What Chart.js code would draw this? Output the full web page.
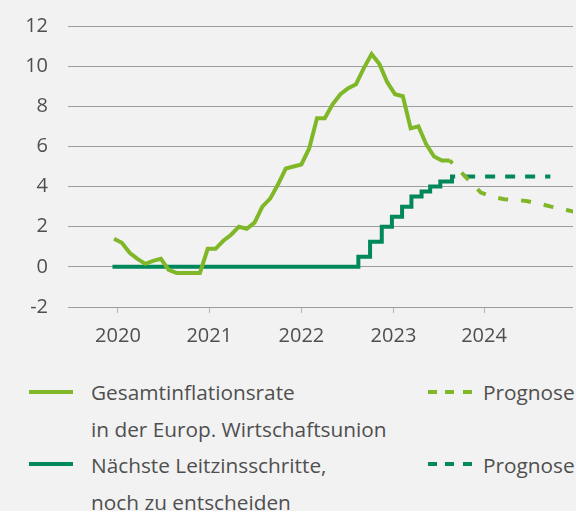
<!DOCTYPE html>
<html lang="de">
<head>
<meta charset="utf-8">
<script src="https://cdn.jsdelivr.net/npm/chart.js@4.4.1/dist/chart.umd.min.js"></script>
<style>
  html, body { margin: 0; padding: 0; background: #f2f2f2; }
  body { width: 576px; height: 511px; position: relative; overflow: hidden;
         font-family: 'Open Sans', sans-serif; color: #4f4f4f; }
  #chartBox { position: absolute; left: 0; top: 0; width: 576px; height: 355px; }
  .swatch { position: absolute; height: 4px; width: 44px; }
  .solid-light { background: #80b729; }
  .solid-dark { background: #00885a; }
  .dash-light { background: repeating-linear-gradient(to right, #80b729 0 9px, transparent 9px 17.3px); }
  .dash-dark { background: repeating-linear-gradient(to right, #00885a 0 9px, transparent 9px 17.3px); }
  .label { position: absolute; font-size: 20.8px; line-height: 20px; white-space: nowrap; }
</style>
</head>
<body>
<div id="chartBox"><canvas id="chart"></canvas></div>

<!-- legend -->
<div class="swatch solid-light" style="left:29px; top:390px;"></div>
<div class="label" style="left:91px; top:382px;">Gesamtinflationsrate</div>
<div class="label" style="left:91px; top:419px;">in der Europ. Wirtschaftsunion</div>
<div class="swatch solid-dark" style="left:29px; top:462px;"></div>
<div class="label" style="left:91px; top:455px;">Nächste Leitzinsschritte,</div>
<div class="label" style="left:91px; top:492px;">noch zu entscheiden</div>
<div class="swatch dash-light" style="left:428px; top:390px;"></div>
<div class="label" style="left:483px; top:382px;">Prognose</div>
<div class="swatch dash-dark" style="left:428px; top:462px;"></div>
<div class="label" style="left:483px; top:455px;">Prognose</div>

<script>
// Year ticks (position in months since Jan 2020)
const yearLabels = ['2020', '2021', '2022', '2023', '2024'];
const yearTickPos = [0.5, 12.2, 24.0, 35.8, 47.4];

// Inflation rate, monthly from Jan 2020 (%)
const inflation = [
  1.4, 1.2, 0.7, 0.4, 0.15, 0.3, 0.4, -0.15, -0.3, -0.3, -0.3, -0.3,
  0.9, 0.9, 1.3, 1.6, 2.0, 1.9, 2.2, 3.0, 3.4, 4.1, 4.9, 5.0,
  5.1, 5.9, 7.4, 7.4, 8.1, 8.6, 8.9, 9.1, 9.9, 10.6, 10.1, 9.2,
  8.6, 8.5, 6.9, 7.0, 6.1, 5.5, 5.3, 5.3
];

// Inflation forecast, monthly from Aug 2023
const inflationForecastStart = 43;
const inflationForecast = [5.3, 4.9, 4.5, 4.1, 3.7, 3.55, 3.45, 3.37, 3.34, 3.32,
  3.27, 3.18, 3.1, 3.0, 2.92, 2.83, 2.74, 2.65];

// Key rate steps
const rateMonths = [-0.2, 31.3, 32.8, 34.3, 35.6, 36.9, 38.1, 39.4, 40.5, 41.8, 43.3, 43.7];
const rateLevels = [0, 0.5, 1.25, 2.0, 2.5, 3.0, 3.5, 3.75, 4.0, 4.25, 4.5, 4.5];

// Key rate forecast
const rateForecastMonths = [43.7, 55.9];
const rateForecastLevels = [4.5, 4.5];

const LIGHT = '#80b729';
const DARK = '#00885a';
const TEXT = '#4f4f4f';

const inflationPts = inflation.map((v, i) => ({ x: i, y: v }));
const inflationFcPts = inflationForecast.map((v, i) => ({ x: inflationForecastStart + i, y: v }));
const ratePts = rateMonths.map((m, i) => ({ x: m, y: rateLevels[i] }));
const rateFcPts = rateForecastMonths.map((m, i) => ({ x: m, y: rateForecastLevels[i] }));

Chart.defaults.font.family = "'Open Sans', sans-serif";
Chart.defaults.font.size = 20;
Chart.defaults.color = TEXT;

const ctx = document.getElementById('chart').getContext('2d');
new Chart(ctx, {
  type: 'line',
  data: {
    datasets: [
      {
        label: 'Gesamtinflationsrate',
        data: inflationPts,
        borderColor: LIGHT,
        borderWidth: 4,
        pointRadius: 0,
        tension: 0
      },
      {
        label: 'Prognose Inflation',
        data: inflationFcPts,
        borderColor: LIGHT,
        borderWidth: 4,
        borderDash: [10, 13],
        borderDashOffset: 6,
        pointRadius: 0,
        tension: 0
      },
      {
        label: 'Leitzins',
        data: ratePts,
        borderColor: DARK,
        borderWidth: 4,
        stepped: true,
        pointRadius: 0
      },
      {
        label: 'Prognose Leitzins',
        data: rateFcPts,
        borderColor: DARK,
        borderWidth: 4,
        borderDash: [10, 10],
        borderDashOffset: 10,
        pointRadius: 0
      }
    ]
  },
  options: {
    responsive: true,
    maintainAspectRatio: false,
    animation: false,
    layout: { padding: { top: 26, right: 3, left: 0, bottom: 0 } },
    plugins: {
      legend: { display: false },
      tooltip: { enabled: false }
    },
    scales: {
      x: {
        type: 'linear',
        min: -5.9,
        max: 58.8,
        afterBuildTicks: (scale) => {
          scale.ticks = yearTickPos.map(v => ({ value: v }));
        },
        afterFit: (scale) => { scale.height = 48; },
        border: { display: false },
        grid: {
          drawOnChartArea: false,
          drawTicks: true,
          tickLength: 6,
          color: '#b4b4b4',
          lineWidth: 1
        },
        ticks: {
          autoSkip: false,
          maxRotation: 0,
          padding: 11,
          color: TEXT,
          callback: (value, index) => yearLabels[index]
        }
      },
      y: {
        min: -2,
        max: 12,
        afterFit: (scale) => { scale.width = 68; },
        border: { display: false },
        grid: {
          // invisible tick marks keep the labels 20px off the plot
          drawTicks: true,
          tickLength: 20,
          tickColor: 'rgba(0,0,0,0)',
          color: '#9d9d9d',
          lineWidth: 1
        },
        ticks: {
          stepSize: 2,
          padding: 0,
          color: TEXT,
          callback: (value) => String(value)
        }
      }
    }
  }
});
</script>
</body>
</html>
